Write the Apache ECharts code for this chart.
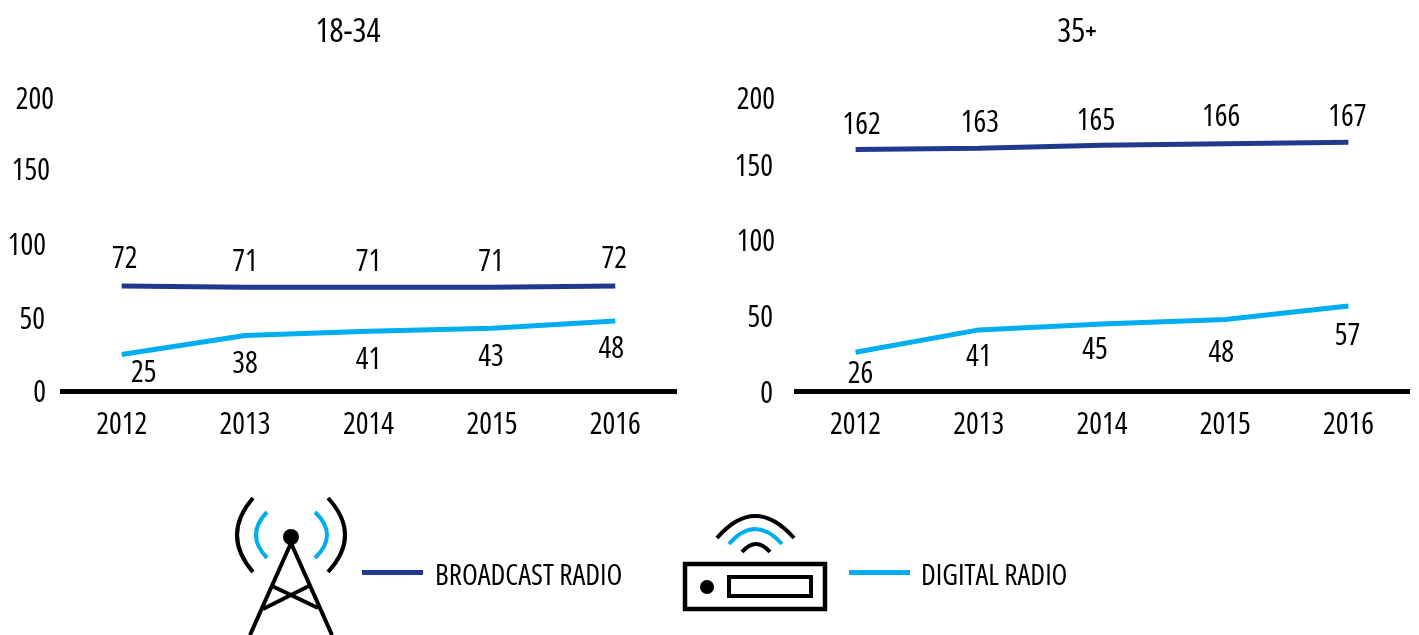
<!DOCTYPE html>
<html>
<head>
<meta charset="utf-8">
<title>Radio listening by age</title>
<script src="https://cdn.jsdelivr.net/npm/echarts@6/dist/echarts.min.js"></script>
<style>
html, body { margin: 0; padding: 0; background: #fff; }
#chart { width: 1419px; height: 635px; }
</style>
</head>
<body>
<div id="chart"></div>
<script>
var years = ["2012", "2013", "2014", "2015", "2016"];
var yTicks = [0, 50, 100, 150, 200];

var broadcastYoung = [72, 71, 71, 71, 72];
var digitalYoung = [25, 38, 41, 43, 48];
var broadcastOld = [162, 163, 165, 166, 167];
var digitalOld = [26, 41, 45, 48, 57];

// the labels in the original are hand placed, so every one gets its own nudge
var nudgeBroadcastYoung = [[3, -26], [0, -25], [0, -25], [-1, -25], [-1, -26]];
var nudgeDigitalYoung = [[22, 19], [0, 29], [0, 29], [-1, 29], [-4, 29]];
var nudgeBroadcastOld = [[6, -24], [1, -25], [-6, -24], [-4, -26], [-1, -25]];
var nudgeDigitalOld = [[5, 22], [0, 28], [-7, 27], [-4, 34], [-1, 30]];
var nudgeTicksYoung = [[8, 2], [9, 2], [8, 1], [4, -1], [0, 1]];
var nudgeTicksOld = [[2, 3], [2, 2], [0, 0], [2, 0], [0, 7]];

var NAVY = "#21398c";
var CYAN = "#00aeef";
var FONT = '"Open Sans"';
// "condensed" ends up in the canvas font shorthand, which gives the narrow cut of Open Sans
var NARROW = "condensed";

function labelled(values, nudges) {
    return values.map(function (v, i) {
        return { value: v, label: { offset: nudges[i] } };
    });
}

function lineSeries(name, color, values, nudges, idx) {
    return {
        name: name,
        type: "line",
        xAxisIndex: idx,
        yAxisIndex: idx,
        symbol: "circle",
        symbolSize: 0,
        showSymbol: true,
        silent: true,
        lineStyle: { color: color, width: 5, cap: "butt" },
        itemStyle: { color: color },
        label: {
            show: true,
            position: "inside",
            align: "center",
            verticalAlign: "middle",
            color: "#000",
            fontFamily: FONT,
            fontWeight: NARROW,
            fontSize: 30
        },
        data: labelled(values, nudges)
    };
}

function tickRich(nudges) {
    var rich = {};
    yTicks.forEach(function (t, i) {
        var dx = nudges[i][0], dy = nudges[i][1];
        rich["t" + t] = {
            color: "#000",
            fontFamily: FONT,
            fontWeight: NARROW,
            fontSize: 30,
            padding: [dy > 0 ? dy * 2 : 0, dx, dy < 0 ? -dy * 2 : 0, 0]
        };
    });
    return rich;
}

function xAxis(gridIndex) {
    return {
        type: "category",
        gridIndex: gridIndex,
        data: years,
        axisTick: { show: false },
        axisLine: { lineStyle: { color: "#000", width: 5, cap: "butt" } },
        axisLabel: { color: "#000", fontFamily: FONT, fontWeight: NARROW, fontSize: 30, margin: 19 }
    };
}

function yAxis(gridIndex, margin, nudges) {
    return {
        type: "value",
        gridIndex: gridIndex,
        min: 0,
        max: 200,
        interval: 50,
        axisLine: { show: false },
        axisTick: { show: false },
        splitLine: { show: false },
        axisLabel: {
            margin: margin,
            formatter: function (v) { return "{t" + v + "|" + v + "}"; },
            rich: tickRich(nudges)
        }
    };
}

function legendFor(name, left, gap) {
    return {
        left: left,
        top: 562,
        padding: 0,
        itemWidth: 61,
        itemHeight: 5,
        icon: "rect",
        data: [name],
        selectedMode: false,
        formatter: "{a|{name}}",
        textStyle: {
            rich: {
                a: { color: "#000", fontFamily: FONT, fontWeight: NARROW, fontSize: 29, padding: [8, 0, 0, gap] }
            }
        }
    };
}

function arc(x1, y1, cx, cy, x2, y2, color) {
    return {
        type: "bezierCurve",
        silent: true,
        shape: { x1: x1, y1: y1, cpx1: cx, cpy1: cy, x2: x2, y2: y2 },
        style: { fill: null, stroke: color, lineWidth: 4 }
    };
}

function bar(x1, y1, x2, y2) {
    return {
        type: "line",
        silent: true,
        shape: { x1: x1, y1: y1, x2: x2, y2: y2 },
        style: { stroke: "#000", lineWidth: 4 }
    };
}

var icons = [
    // tower
    arc(253, 498, 221, 535, 253, 572, "#000"),
    arc(328, 498, 362, 535, 328, 572, "#000"),
    arc(267, 512, 245, 535, 267, 558, CYAN),
    arc(315, 512, 339, 535, 315, 558, CYAN),
    bar(291, 543, 250, 635),
    bar(291, 543, 332, 635),
    bar(272, 586, 318, 608),
    bar(309, 586, 263, 609),
    { type: "circle", silent: true, shape: { cx: 291, cy: 537, r: 8 }, style: { fill: "#000" } },
    // radio
    arc(717, 538, 755, 494, 794, 538, "#000"),
    arc(729, 544, 755, 514, 782, 544, CYAN),
    arc(742, 552, 756, 536, 770, 552, "#000"),
    { type: "rect", silent: true, shape: { x: 685, y: 564, width: 140, height: 45 }, style: { fill: null, stroke: "#000", lineWidth: 4.5 } },
    { type: "rect", silent: true, shape: { x: 729, y: 577, width: 82, height: 19 }, style: { fill: null, stroke: "#000", lineWidth: 4 } },
    { type: "circle", silent: true, shape: { cx: 707, cy: 587, r: 7 }, style: { fill: "#000" } }
];

var myChart = echarts.init(document.getElementById("chart"));
myChart.setOption({
    animation: false,
    backgroundColor: "#fff",
    title: [
        { text: "18-34", left: 343, top: 11, textAlign: "center", textStyle: { color: "#000", fontFamily: FONT, fontSize: 33, fontWeight: NARROW } },
        {
            text: "{a|35}{b|+}", left: 1072, top: 11, textAlign: "center",
            textStyle: {
                rich: {
                    a: { color: "#000", fontFamily: FONT, fontWeight: NARROW, fontSize: 33 },
                    b: { color: "#000", fontFamily: FONT, fontWeight: "bold", fontSize: 20 }
                }
            }
        }
    ],
    legend: [
        legendFor("BROADCAST RADIO", 362, 7),
        legendFor("DIGITAL RADIO", 849, 6)
    ],
    grid: [
        { left: 60, width: 617, top: 99, height: 292 },
        { left: 794, width: 616, top: 93, height: 298 }
    ],
    xAxis: [xAxis(0), xAxis(1)],
    yAxis: [yAxis(0, 6, nudgeTicksYoung), yAxis(1, 19, nudgeTicksOld)],
    series: [
        lineSeries("BROADCAST RADIO", NAVY, broadcastYoung, nudgeBroadcastYoung, 0),
        lineSeries("DIGITAL RADIO", CYAN, digitalYoung, nudgeDigitalYoung, 0),
        lineSeries("BROADCAST RADIO", NAVY, broadcastOld, nudgeBroadcastOld, 1),
        lineSeries("DIGITAL RADIO", CYAN, digitalOld, nudgeDigitalOld, 1)
    ],
    graphic: icons
});
</script>
</body>
</html>
